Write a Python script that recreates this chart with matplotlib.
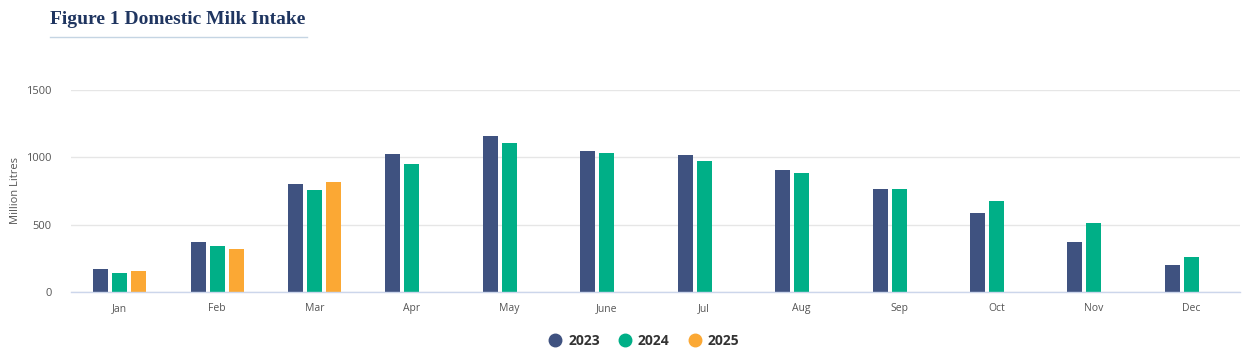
import matplotlib
matplotlib.use("Agg")
import matplotlib.pyplot as plt
from matplotlib.lines import Line2D
import numpy as np

plt.rcParams['font.family'] = ['Open Sans', 'DejaVu Sans']

months = ['Jan', 'Feb', 'Mar', 'Apr', 'May', 'June', 'Jul', 'Aug', 'Sep', 'Oct', 'Nov', 'Dec']
years = ['2023', '2024', '2025']
v2023 = [174, 375, 801, 1025, 1159, 1047, 1017, 905, 763, 584, 375, 204]
v2024 = [144, 345, 756, 950, 1107, 1032, 972, 883, 763, 674, 510, 263]
v2025 = [159, 323, 816, np.nan, np.nan, np.nan, np.nan, np.nan, np.nan, np.nan, np.nan, np.nan]
colores = ['#3f5280', '#00af87', '#fba834']

fig = plt.figure(figsize=(12.5, 3.64), dpi=100)
ax = fig.add_axes([0.0568, 0.197, 0.9352, 0.557])

x = np.arange(len(months))
paso = 0.195
ancho = 0.154
for i, (serie, color) in enumerate(zip([v2023, v2024, v2025], colores)):
    ax.bar(x + (i - 1) * paso, serie, width=ancho, color=color, zorder=3)

ax.set_xlim(-0.5, len(months) - 0.5)
ax.set_ylim(0, 1500)
ax.set_yticks([0, 500, 1000, 1500])
ax.set_xticks(x)
ax.set_xticklabels(months)
ax.tick_params(axis='x', length=0, pad=8, labelsize=7.5, labelcolor='#555555')
ax.tick_params(axis='y', length=0, pad=14, labelsize=8, labelcolor='#555555')
ax.grid(axis='y', color='#e6e6e6', linewidth=1, zorder=0)
for s in ['top', 'right', 'left']:
    ax.spines[s].set_visible(False)
ax.spines['bottom'].set_color('#ccd6eb')
ax.spines['bottom'].set_linewidth(1)
ax.spines['bottom'].set_zorder(4)

ax.set_ylabel('Million Litres', fontsize=8, color='#555555', labelpad=4)

# titulo con subrayado
fig.text(50 / 1250, 1 - 20 / 364, 'Figure 1 Domestic Milk Intake', fontsize=14,
         fontweight='bold', family=['Liberation Serif'], color='#1f3560', va='center', ha='left')
fig.add_artist(Line2D([50 / 1250, 307 / 1250], [1 - 36.5 / 364, 1 - 36.5 / 364],
                      color='#c5d5e3', linewidth=1))

handles = [Line2D([], [], marker='o', linestyle='', markersize=9, color=c) for c in colores]
fig.legend(handles, years, loc='center', bbox_to_anchor=(0.5145, 1 - 341 / 364), ncol=3,
           frameon=False, prop={'weight': 'bold', 'size': 10}, handletextpad=0.35,
           columnspacing=1.2, labelcolor='#333333', handlelength=1.2)

fig.savefig('out.png', dpi=100)
